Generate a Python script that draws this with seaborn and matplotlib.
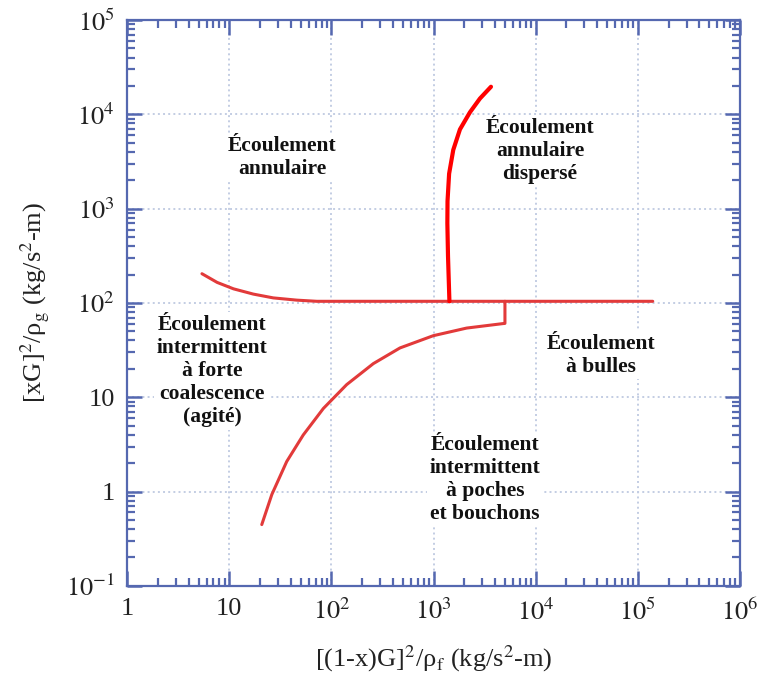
import numpy as np
import matplotlib
matplotlib.use("Agg")
import matplotlib.pyplot as plt
import seaborn as sns

# boundary curves of the flow map
upper_x = [5.4, 7.6, 11, 17.2, 27, 45.8, 72, 1.4e5]
upper_y = [204, 165, 141, 124, 113, 107, 104, 104]

dispersed_x = [1430, 1385, 1365, 1370, 1420, 1560, 1813, 2270, 2845, 3650]
dispersed_y = [104, 314, 700, 1200, 2345, 4200, 6920, 10500, 14700, 19600]

lower_x = [20.8, 26.1, 36.5, 53, 83.4, 141, 257, 469, 993, 2108, 4810, 5000, 5000]
lower_y = [0.446, 0.93, 2.08, 3.98, 7.6, 13.6, 22.7, 33.3, 44.9, 54.1, 60.4, 60.6, 104]

x_ticks = [1, 10, 1e2, 1e3, 1e4, 1e5, 1e6]
x_ticklabels = ["1", "10", "$10^2$", "$10^3$", "$10^4$", "$10^5$", "$10^6$"]
y_ticks = [0.1, 1, 10, 1e2, 1e3, 1e4, 1e5]
y_ticklabels = ["$10^{-1}$", "1", "10", "$10^2$", "$10^3$", "$10^4$", "$10^5$"]

regions = [
    "Écoulement\nannulaire",
    "Écoulement\nannulaire\ndispersé",
    "Écoulement\nintermittent\nà forte\ncoalescence\n(agité)",
    "Écoulement\nà bulles",
    "Écoulement\nintermittent\nà poches\net bouchons",
]

sns.set_theme(style="ticks")
plt.rcParams["font.family"] = ["Liberation Serif", "DejaVu Serif"]
plt.rcParams["mathtext.fontset"] = "stix"

frame = "#5568b0"
line_red = "#e23a3a"

fig = plt.figure(figsize=(7.66, 6.90), dpi=100)
ax = fig.add_axes([0.166, 0.151, 0.800, 0.820])

sns.lineplot(x=upper_x, y=upper_y, sort=False, estimator=None, color=line_red, lw=2.2, ax=ax)
sns.lineplot(x=lower_x, y=lower_y, sort=False, estimator=None, color=line_red, lw=2.2, ax=ax)
sns.lineplot(x=dispersed_x, y=dispersed_y, sort=False, estimator=None, color="#ff0000", lw=3, ax=ax)
for ln in ax.lines:
    ln.set_solid_joinstyle("round")

ax.set_xscale("log")
ax.set_yscale("log")
ax.set_xlim(1, 1e6)
ax.set_ylim(0.1, 1e5)
ax.set_xticks(x_ticks)
ax.set_xticklabels(x_ticklabels)
ax.set_yticks(y_ticks)
ax.set_yticklabels(y_ticklabels)

ax.grid(True, which="major", color="#c3cde3", linestyle=":", linewidth=1.4)
ax.tick_params(which="both", direction="in", top=True, right=True, color=frame,
               labelsize=19, labelcolor="#222222")
ax.tick_params(which="major", length=11, width=1.8, pad=9)
ax.tick_params(which="minor", length=6, width=1.6)
for s in ax.spines.values():
    s.set_color(frame)
    s.set_linewidth(1.6)

ax.set_xlabel("[(1-x)G]$^2$/ρ$_\\mathrm{f}$ (kg/s$^2$-m)", fontsize=19, labelpad=14, color="#222222")
ax.set_ylabel("[xG]$^2$/ρ$_\\mathrm{g}$ (kg/s$^2$-m)", fontsize=19, labelpad=10, color="#222222")

box = dict(facecolor="white", edgecolor="none", pad=2)
txt = dict(fontsize=15.5, fontweight="bold", ha="center", va="center", color="#111111",
           linespacing=1.2, bbox=box)
ax.text(33, 3500, regions[0], **txt)
ax.text(1.1e4, 4100, regions[1], **txt)
ax.text(6.8, 19, regions[2], **txt)
ax.text(4.4e4, 28, regions[3], **txt)
ax.text(3200, 1.35, regions[4], **txt)

fig.savefig("out.png", dpi=100)
